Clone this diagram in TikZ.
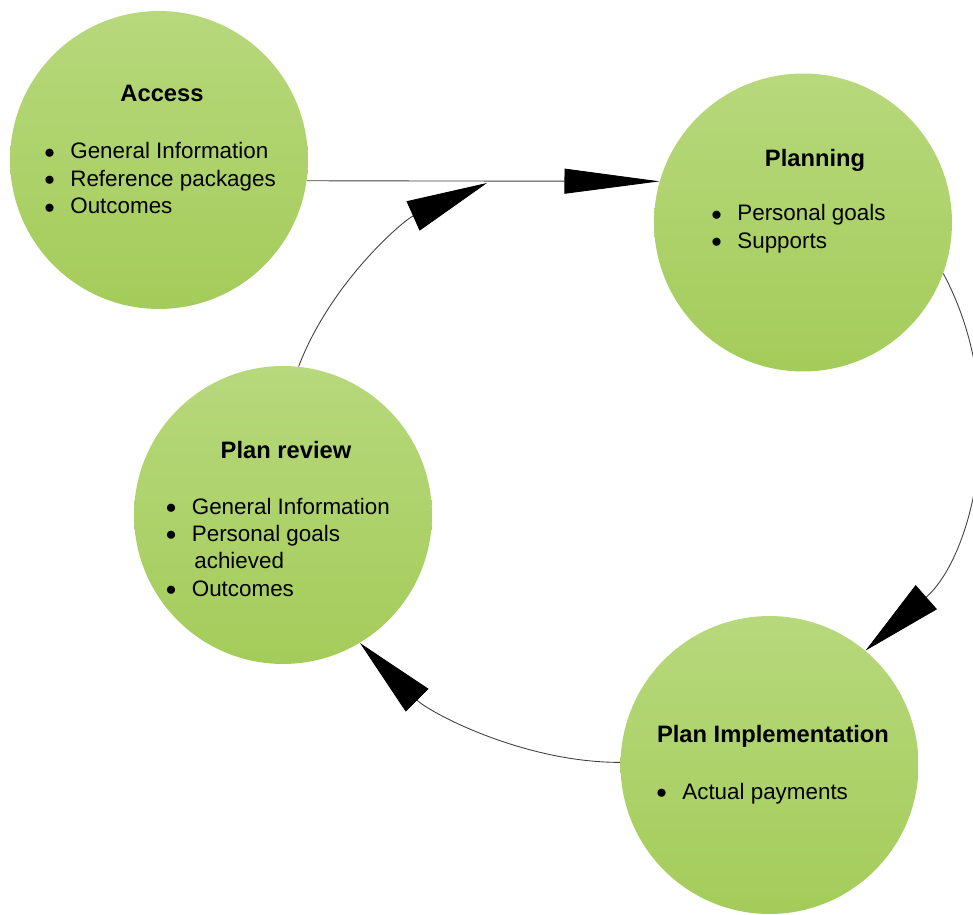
\documentclass[tikz,border=0pt]{standalone}
\usepackage{fontspec}
\setmainfont{Liberation Sans}
\usepackage{tikz}
\usetikzlibrary{arrows.meta}
\definecolor{StageTop}{RGB}{183,216,124}
\definecolor{StageBot}{RGB}{164,204,90}
\newcommand{\bul}{\llap{\raisebox{0.3pt}{$\bullet$}\hspace{0.31cm}}}

\begin{document}
\begin{tikzpicture}[x=0.02cm,y=-0.02cm,
  stage/.style={circle,minimum size=5.96cm,inner sep=0pt,top color=StageTop,bottom color=StageBot},
  head/.style={font=\fontsize{13.5}{16}\selectfont\bfseries,inner sep=0pt,anchor=base},
  items/.style={font=\fontsize{12.75}{15.6}\selectfont,inner sep=0pt,anchor=base west},
  flow/.style={draw=black!75,line width=0.5pt,-{Triangle[length=1.62cm,width=0.64cm,black]}},
  straightflow/.style={draw=black!75,line width=0.5pt,-{Triangle[length=1.9cm,width=0.5cm,black]}}]
\useasboundingbox (0,0) rectangle (973,915);
% stages
\node[stage] (access) at (159,160) {};
\node[stage] (planning) at (803,222.5) {};
\node[stage] (review) at (283,515) {};
\node[stage] (impl) at (769.5,765) {};
% titles and lists
\node[head] (accessT) at (162,101.5) {Access};
\node[items] (accessL) at (70,159) {\begin{tabular}[t]{@{}l@{}}\bul General Information\\ \bul Reference packages\\ \bul Outcomes\end{tabular}};
\node[head] (planningT) at (815,167) {Planning};
\node[items] (planningL) at (737,221) {\begin{tabular}[t]{@{}l@{}}\bul Personal goals\\ \bul Supports\end{tabular}};
\node[head] (reviewT) at (286,458) {Plan review};
\node[items] (reviewL) at (191.5,514) {\begin{tabular}[t]{@{}l@{}}\bul General Information\\ \bul Personal goals\\ \hspace{0.05cm}achieved\\ \bul Outcomes\end{tabular}};
\node[head] (implT) at (773,742) {Plan Implementation};
\node[items] (implL) at (682,799) {\begin{tabular}[t]{@{}l@{}}\bul Actual payments\end{tabular}};
% connectors
\coordinate (join) at (487,183);
\draw[straightflow] (access.-8.9) -- (planning.164.7);
\draw[flow] (planning.-20.3) .. controls +(68,127) and +(108,-95) .. (impl.50.9);
\draw[flow] (impl.179.2) .. controls +(-98,0) and +(69,69) .. (review.-59);
\draw[flow] (review.84.7) .. controls +(32.5,-85) and +(-83,37) .. (join);
\end{tikzpicture}
\end{document}
